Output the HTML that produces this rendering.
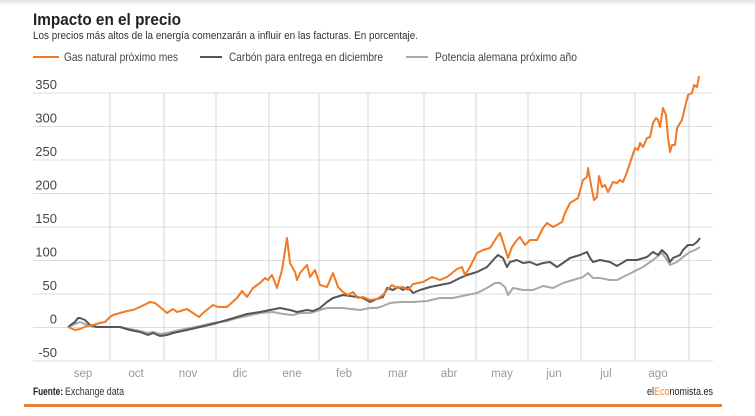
<!DOCTYPE html>
<html><head><meta charset="utf-8"><style>
html,body{margin:0;padding:0;background:#fff;}
svg{display:block;font-family:"Liberation Sans",Arial,sans-serif;}
</style></head><body>
<svg width="755" height="416" viewBox="0 0 755 416" xmlns="http://www.w3.org/2000/svg">
<defs><linearGradient id="tg" x1="0" y1="0" x2="0" y2="1"><stop offset="0" stop-color="#e4e4e4"/><stop offset="1" stop-color="#ffffff"/></linearGradient></defs>
<rect x="0" y="0" width="755" height="416" fill="#fff"/>
<rect x="0" y="0" width="755" height="6" fill="url(#tg)"/>
<text x="33" y="25" font-size="16.5" font-weight="bold" fill="#222" textLength="148" lengthAdjust="spacingAndGlyphs">Impacto en el precio</text>
<text x="33" y="39" font-size="11" fill="#333" textLength="385" lengthAdjust="spacingAndGlyphs">Los precios más altos de la energía comenzarán a influir en las facturas. En porcentaje.</text>
<line x1="33" y1="57" x2="59" y2="57" stroke="#f07a26" stroke-width="2"/>
<text x="64" y="61" font-size="12" fill="#444" textLength="114" lengthAdjust="spacingAndGlyphs">Gas natural próximo mes</text>
<line x1="200" y1="57" x2="222" y2="57" stroke="#555" stroke-width="2"/>
<text x="229" y="61" font-size="12" fill="#444" textLength="154" lengthAdjust="spacingAndGlyphs">Carbón para entrega en diciembre</text>
<line x1="406" y1="57" x2="428" y2="57" stroke="#aaa" stroke-width="2"/>
<text x="435" y="61" font-size="12" fill="#444" textLength="142" lengthAdjust="spacingAndGlyphs">Potencia alemana próximo año</text>
<g stroke="#dcdcdc" stroke-width="1">
<line x1="33" y1="93" x2="713" y2="93"/>
<line x1="33" y1="126.5" x2="713" y2="126.5"/>
<line x1="33" y1="160" x2="713" y2="160"/>
<line x1="33" y1="193.5" x2="713" y2="193.5"/>
<line x1="33" y1="227" x2="713" y2="227"/>
<line x1="33" y1="260.5" x2="713" y2="260.5"/>
<line x1="33" y1="294" x2="713" y2="294"/>
<line x1="33" y1="327.5" x2="713" y2="327.5"/>
<line x1="33" y1="361" x2="713" y2="361"/>
</g>
<g stroke="#d4d4d4" stroke-width="1">
<line x1="110" y1="93" x2="110" y2="361"/>
<line x1="164" y1="93" x2="164" y2="361"/>
<line x1="216" y1="93" x2="216" y2="361"/>
<line x1="269" y1="93" x2="269" y2="361"/>
<line x1="319" y1="93" x2="319" y2="361"/>
<line x1="368" y1="93" x2="368" y2="361"/>
<line x1="424" y1="93" x2="424" y2="361"/>
<line x1="476" y1="93" x2="476" y2="361"/>
<line x1="528" y1="93" x2="528" y2="361"/>
<line x1="581" y1="93" x2="581" y2="361"/>
<line x1="635" y1="93" x2="635" y2="361"/>
<line x1="689" y1="93" x2="689" y2="361"/>
</g>
<g font-size="13" fill="#444" text-anchor="end">
<text x="57" y="89">350</text>
<text x="57" y="122.5">300</text>
<text x="57" y="156">250</text>
<text x="57" y="189.5">200</text>
<text x="57" y="223">150</text>
<text x="57" y="256.5">100</text>
<text x="57" y="290">50</text>
<text x="57" y="323.5">0</text>
<text x="57" y="357">-50</text>
</g>
<g font-size="11.5" fill="#999" text-anchor="middle">
<text x="83" y="377">sep</text>
<text x="136" y="377">oct</text>
<text x="188" y="377">nov</text>
<text x="240" y="377">dic</text>
<text x="292" y="377">ene</text>
<text x="344" y="377">feb</text>
<text x="398" y="377">mar</text>
<text x="449" y="377">abr</text>
<text x="502" y="377">may</text>
<text x="554" y="377">jun</text>
<text x="606" y="377">jul</text>
<text x="658" y="377">ago</text>
</g>
<polyline fill="none" stroke="#a8a8a8" stroke-width="2" stroke-linejoin="round" points="68,327 75,324 80,322 87,325 95,327 110,327 120,327 130,329 140,331 148,333 153,332 160,334 167,333 180,330 200,326 213,323 227,321 237,318 247,316 260,313 273,312 283,314 293,315 300,313 310,313 320,310 327,308 343,308 360,310 370,308 377,308 383,306 390,303 400,302 413,302 427,301 440,298 453,298 467,295 477,293 487,288 495,283 500,283 505,287 508,295 513,288 523,290 533,290 543,286 553,288 563,283 573,280 583,277 588,273 593,278 600,278 610,280 617,280 623,277 633,272 643,267 653,260 662,253 667,260 670,265 677,262 683,257 690,252 695,250 700,247"/>
<polyline fill="none" stroke="#555" stroke-width="2" stroke-linejoin="round" points="68,327 72,324 75,322 78,318 80,318 85,320 90,325 97,327 110,327 120,327 130,330 140,332 148,335 153,333 160,336 167,335 173,333 187,330 200,327 213,324 227,320 237,317 247,314 260,312 270,310 280,308 290,310 297,312 307,310 313,311 320,308 327,302 333,298 343,295 350,296 357,297 363,298 370,302 377,299 383,297 387,288 393,290 398,287 403,290 408,287 413,293 420,290 430,287 440,285 450,283 460,278 467,275 477,272 487,267 495,258 498,255 503,258 507,267 510,262 517,260 523,263 530,262 537,265 543,263 550,262 557,267 563,263 570,258 580,255 587,252 590,258 593,262 600,260 610,262 617,266 622,263 627,260 637,260 647,257 653,252 658,255 662,250 667,255 670,262 673,258 680,255 683,250 688,245 693,245 697,242 700,238"/>
<polyline fill="none" stroke="#f07a26" stroke-width="2" stroke-linejoin="round" points="68,327 75,330 80,329 87,326 93,325 100,323 105,322 110,317 113,315 120,313 127,311 133,310 140,307 150,302 155,303 160,307 167,313 173,309 177,312 187,309 193,313 199,317 203,313 213,305 218,307 227,307 237,298 242,291 247,297 253,288 260,283 265,278 268,280 272,275 277,288 282,270 287,238 290,263 295,272 297,280 300,273 307,265 310,277 315,270 320,285 327,287 333,273 338,287 343,292 348,295 353,292 358,298 363,297 370,300 377,299 383,295 387,290 392,285 397,288 403,287 408,290 413,284 423,282 432,277 440,280 447,277 457,269 462,267 465,275 470,267 477,253 483,250 490,248 495,240 500,233 503,242 508,258 512,247 517,240 520,237 525,245 530,240 537,240 543,228 547,223 553,227 562,222 565,213 570,203 575,200 578,198 583,180 587,177 588,168 592,190 594,200 597,197 599,176 602,187 605,185 608,192 613,182 617,183 620,180 623,182 627,172 632,157 635,148 638,150 640,143 643,147 647,138 650,137 653,123 656,118 658,120 660,127 663,108 666,115 668,137 670,152 672,145 675,145 677,128 682,120 685,107 688,95 692,93 694,85 697,87 699,76"/>
<text x="33" y="395" font-size="11" font-weight="bold" fill="#222" textLength="30" lengthAdjust="spacingAndGlyphs">Fuente:</text>
<text x="65" y="395" font-size="11" fill="#333" textLength="59" lengthAdjust="spacingAndGlyphs">Exchange data</text>
<text x="647" y="395" font-size="11" fill="#222" textLength="66" lengthAdjust="spacingAndGlyphs">el<tspan fill="#f08a3a">Eco</tspan>nomista.es</text>
<rect x="24" y="404" width="698" height="3" fill="#e8843a"/>
</svg>
</body></html>
